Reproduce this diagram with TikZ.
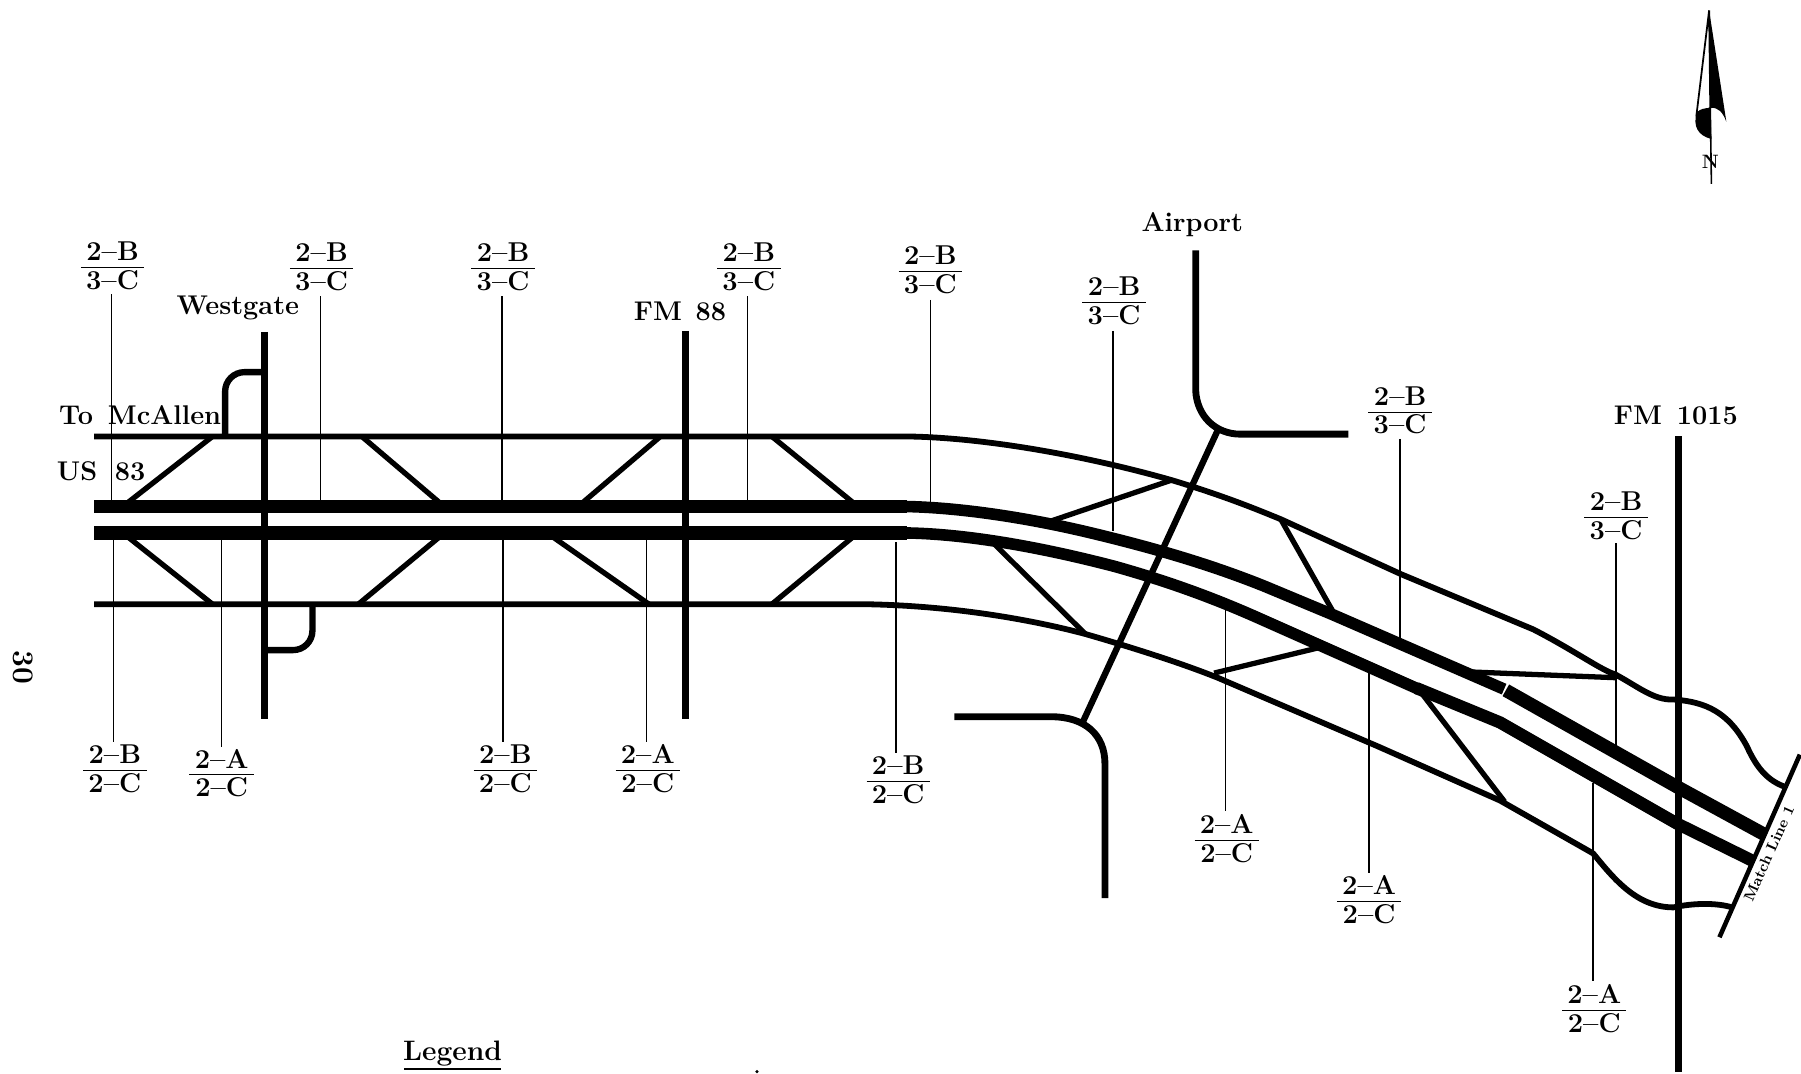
\documentclass[tikz,border=0pt]{standalone}
\usetikzlibrary{calc}
\tikzset{
 x=0.022972cm,y=-0.022972cm,
 road/.style={line width=3.9pt,line join=round},
 cross/.style={line width=3.6pt,line join=round},
 ramp/.style={line width=3pt},
 hook/.style={line width=3.6pt,rounded corners=11pt},
 front/.style={line width=3.3pt,line join=round},
 main/.style={line width=7.6pt},
 mainc/.style={line width=6.6pt},
 leader/.style={line width=0.8pt},
 lab/.style={font=\fontsize{15.4}{16}\selectfont\bfseries,inner sep=0pt},
 fr/.style={font=\fontsize{15.5}{15.5}\selectfont\bfseries,inner sep=0pt,align=center},
}
\newcommand{\frc}[5]{\node[fr] (#1) at (#2,#3+2.5) {\setlength{\tabcolsep}{3pt}\renewcommand{\arraystretch}{1}\begin{tabular}{c}#4\\[-1pt]\hline\noalign{\vskip1.5pt}#5\end{tabular}};}
\begin{document}
\begin{tikzpicture}
\useasboundingbox (0,0) rectangle (1568,935);
% frontage roads
\draw[front] (82,380) -- (790,380) .. controls (860,381) and (950,398) .. (1020,418)
  .. controls (1070,433) and (1100,446) .. (1115,452) -- (1220,500) -- (1335,548)
  .. controls (1370,566) and (1395,584) .. (1406,587)
  .. controls (1425,597) and (1440,610) .. (1457,609)
  .. controls (1485,611) and (1505,620) .. (1521,650)
  .. controls (1530,670) and (1540,680) .. (1554,685);
\draw[front] (82,526) -- (750,526) .. controls (830,527) and (900,540) .. (945,552)
  .. controls (990,565) and (1030,578) .. (1060,590) -- (1200,650) -- (1306,697)
  -- (1387,743) .. controls (1405,765) and (1425,790) .. (1457,790)
  .. controls (1475,786) and (1495,786) .. (1508,790);
% main lanes
\draw[main] (82,441) -- (790,441);
\draw[mainc] (789,441) .. controls (840,442) and (900,452) .. (950,464)
  .. controls (1000,476) and (1050,490) .. (1100,510) -- (1160,535) -- (1309.5,600);
\draw[main] (1311,601) -- (1460,685) -- (1537,727);
\draw[main] (82,464) -- (790,464);
\draw[mainc] (789,464) .. controls (850,465) and (920,480) .. (970,493)
  .. controls (1020,507) and (1060,522) .. (1100,540) -- (1235,600);
\draw[main,line width=7pt] (1233,599) -- (1306,629) -- (1460,717) -- (1527,750);
% ramps
\draw[ramp] (112,437) -- (185,380);
\draw[ramp] (315,380) -- (382,437);
\draw[ramp] (508,437) -- (575,380);
\draw[ramp] (672,380) -- (742,437);
\draw[ramp] (112,468) -- (185,526);
\draw[ramp] (312,526) -- (382,468);
\draw[ramp] (482,468) -- (565,526);
\draw[ramp] (672,526) -- (742,468);
\draw[ramp] (908,456) -- (1020,418);
\draw[ramp] (866,474) -- (945,552);
\draw[ramp] (1115,452) -- (1162,535);
\draw[ramp] (1057,586) -- (1152,563);
\draw[ramp] (1280,585) -- (1406,590);
\draw[ramp] (1235,600) -- (1310,698);
% crossing roads
\draw[road] (230,289) -- (230,626);
\draw[hook] (230,324) -- (196,324) -- (196,380);
\draw[hook] (232,566) -- (272,566) -- (272,527);
\draw[road] (597,288) -- (597,626);
\draw[road] (1461,380) -- (1461,933);
\draw[road] (1041,218) -- (1041,340) .. controls (1042,362) and (1058,378) .. (1080,378) -- (1174,378);
\draw[cross] (1060,375) -- (943,628);
\draw[road] (831,624) -- (915,624) .. controls (945,624) and (962,640) .. (962,665) -- (962,782);
% match line
\draw[line width=2.6pt] (1567,657) -- (1497,816);
\node[lab,font=\fontsize{8.5}{9}\selectfont\bfseries,rotate=66] (ml) at (1540,743) {Match Line 1};
% labels with leaders
\frc{a1}{98}{232}{2--B}{3--C}
\draw[leader] (97,256) -- (97,438);
\frc{a2}{280}{233}{2--B}{3--C}
\draw[leader] (279,258) -- (279,436);
\frc{a3}{438}{233}{2--B}{3--C}
\draw[leader] (437,258) -- (437,436);
\frc{a4}{652}{233}{2--B}{3--C}
\draw[leader] (651,258) -- (651,436);
\frc{a5}{810}{236}{2--B}{3--C}
\draw[leader] (810,261) -- (810,438);
\frc{a6}{970}{263}{2--B}{3--C}
\draw[leader] (969,288) -- (969,462);
\frc{a7}{1219}{358}{2--B}{3--C}
\draw[leader] (1219,382) -- (1219,557);
\frc{a8}{1407}{450}{2--B}{3--C}
\draw[leader] (1407,473) -- (1407,650);
\frc{b1}{100}{670}{2--B}{2--C}
\draw[leader] (99,466) -- (99,646);
\frc{b2}{193}{674}{2--A}{2--C}
\draw[leader] (193,470) -- (193,650);
\frc{b3}{440}{670}{2--B}{2--C}
\draw[leader] (438,470) -- (438,646);
\frc{b4}{564}{670}{2--A}{2--C}
\draw[leader] (563,470) -- (563,646);
\frc{b5}{782}{680}{2--B}{2--C}
\draw[leader] (780,472) -- (780,656);
\frc{b6}{1068}{731}{2--A}{2--C}
\draw[leader] (1067,530) -- (1067,706);
\frc{b7}{1192}{784}{2--A}{2--C}
\draw[leader] (1192,582) -- (1192,760);
\frc{b8}{1388}{879}{2--A}{2--C}
\draw[leader] (1387,682) -- (1387,854);
% text
\node[lab] (t1) at (207,268) {Westgate};
\node[lab] (t2) at (592,271) {FM\hspace{0.5em}88};
\node[lab] (t3) at (122,361) {To\hspace{0.55em}McAllen};
\node[lab] (t4) at (88,410) {US\hspace{0.65em}83};
\node[lab] (t5) at (1038,196) {Airport};
\node[lab] (t6) at (1459,362) {FM\hspace{0.55em}1015};
\node[lab,font=\fontsize{16}{17}\selectfont\bfseries] (t7) at (394,917) {Legend};
\draw[line width=1pt] (352,931) -- (436,931);
\fill (659,933) circle (1.5);
\node[lab,font=\fontsize{17}{18}\selectfont\bfseries,rotate=-90] (t8) at (20,581) {30};
% north arrow
\draw[line width=1pt,fill=white] (1488,9) -- (1477,100) -- (1489,94) -- cycle;
\fill (1488,9) -- (1503,106) .. controls (1500,98) and (1496,93) .. (1489,94) -- cycle;
\fill (1477,98) .. controls (1474,110) and (1478,118) .. (1490,121) -- (1489,94) .. controls (1484,94) and (1480,95) .. (1477,98) -- cycle;
\draw[line width=0.9pt] (1489,94) -- (1490,160);
\node[lab,font=\fontsize{11}{12}\selectfont\bfseries] (n) at (1489,141) {N};
\end{tikzpicture}
\end{document}
